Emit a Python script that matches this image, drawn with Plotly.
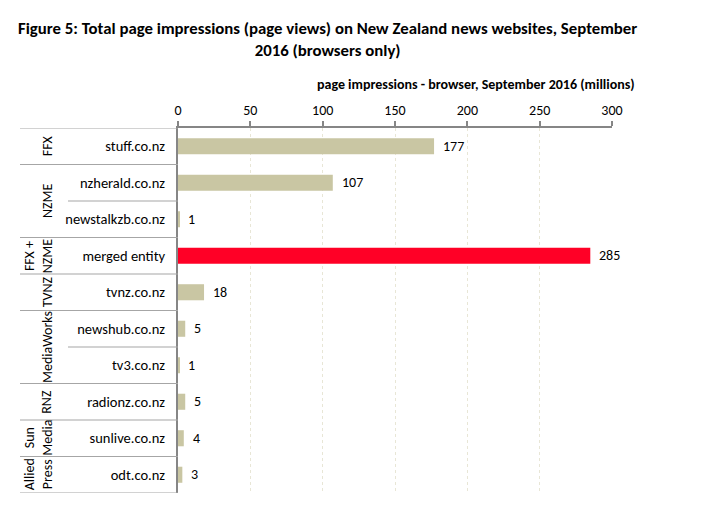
import plotly.graph_objects as go

sites = ["stuff.co.nz", "nzherald.co.nz", "newstalkzb.co.nz", "merged entity", "tvnz.co.nz",
         "newshub.co.nz", "tv3.co.nz", "radionz.co.nz", "sunlive.co.nz", "odt.co.nz"]
values = [177, 107, 1, 285, 18, 5, 1, 5, 4, 3]
groups = ["FFX", "NZME", "FFX +<br>NZME", "TVNZ", "MediaWorks", "RNZ", "Sun<br>Media", "Allied<br>Press"]
group_rows = [(0, 0), (1, 2), (3, 3), (4, 4), (5, 6), (7, 7), (8, 8), (9, 9)]
x_ticks = [0, 50, 100, 150, 200, 250, 300]
title_lines = ["Figure 5: Total page impressions (page views) on New Zealand news websites, September",
               "2016 (browsers only)"]

TAN = "#C9C6A3"
RED = "#FF0026"
FONT = "Calibri, Carlito, Lato, sans-serif"

W, H = 712, 517
OFF = 8  # page offset of the figure in the screenshot
ML, MR, MT, MB = 178 - OFF, 100 + OFF, 128 - OFF, 24 + OFF
PW = W - ML - MR
PH = H - MT - MB

def px_to_paper_x(px):
    return (px - OFF - ML) / PW

def px_to_paper_y(py):
    return (H - MB - (py - OFF)) / PH

ypos = list(range(len(sites)))
colors = [RED if s == "merged entity" else TAN for s in sites]

fig = go.Figure()
fig.add_trace(go.Bar(
    x=values, y=ypos, orientation="h",
    marker=dict(color=colors, line=dict(width=0)),
    width=0.44, hoverinfo="skip",
))

# value labels
for v, yv in zip(values, ypos):
    fig.add_annotation(x=v, y=yv, xref="x", yref="y", text=str(v), showarrow=False,
                       xanchor="left", xshift=7, font=dict(size=14, color="#000000", family=FONT))

shapes = []
group_starts = set(r[0] for r in group_rows)
for i in range(len(sites) + 1):
    bound = i - 0.5
    if i == 0 or i == len(sites) or i in group_starts:
        x0 = px_to_paper_x(20)
    else:
        x0 = px_to_paper_x(68)
    shapes.append(dict(type="line", xref="paper", yref="y", x0=x0, x1=0, y0=bound, y1=bound,
                       line=dict(color="#A6A6A6", width=1.2)))

# group labels
for g, (r0, r1) in zip(groups, group_rows):
    xc = 38.5 if "<br>" in g else 47
    fig.add_annotation(x=px_to_paper_x(xc), y=(r0 + r1) / 2, xref="paper", yref="y",
                       text=g, textangle=-90, showarrow=False, xanchor="center", yanchor="middle",
                       font=dict(size=14, color="#000000", family=FONT), align="center")

# title (two lines in one text)
fig.add_annotation(x=px_to_paper_x(327), y=px_to_paper_y(39.5), xref="paper", yref="paper",
                   text="<b>" + "<br>".join(title_lines) + "</b>", showarrow=False,
                   xanchor="center", yanchor="middle", align="center",
                   font=dict(size=16.8, color="#000000", family=FONT))

# axis title
fig.add_annotation(x=px_to_paper_x(637), y=px_to_paper_y(85), xref="paper", yref="paper",
                   text="<b>page impressions - browser, September 2016 (millions)</b>",
                   showarrow=False, xanchor="right", yanchor="middle",
                   font=dict(size=14, color="#000000", family=FONT))

fig.update_layout(
    width=W, height=H,
    margin=dict(l=ML, r=MR, t=MT, b=MB),
    paper_bgcolor="white", plot_bgcolor="white",
    showlegend=False,
    shapes=shapes,
    xaxis=dict(side="top", range=[0, 300], tickvals=x_ticks, ticktext=[str(t) for t in x_ticks],
               showline=True, linecolor="#868686", linewidth=2,
               ticks="outside", ticklen=5, tickcolor="#868686", tickwidth=1.5,
               showgrid=True, gridcolor="#E8E6D6", griddash="3px,3px", gridwidth=1,
               zeroline=False, tickfont=dict(size=14, color="#000000", family=FONT)),
    yaxis=dict(range=[len(sites) - 0.5, -0.5], tickvals=ypos, ticktext=sites,
               showline=True, linecolor="#868686", linewidth=2, ticks="",
               ticklabelstandoff=8, showgrid=False, zeroline=False,
               tickfont=dict(size=14.5, color="#000000", family=FONT)),
)

fig.write_html("out.html")
